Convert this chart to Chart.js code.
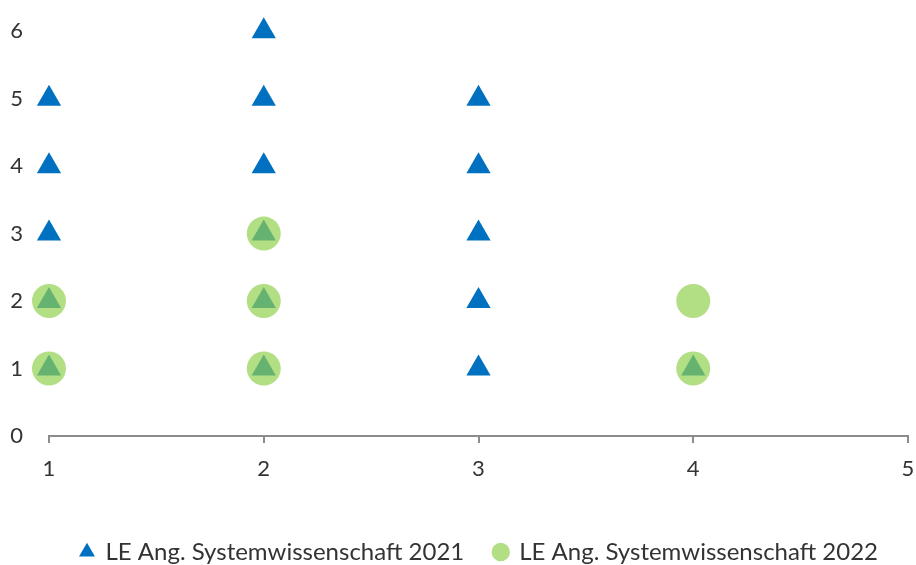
<!DOCTYPE html>
<html>
<head>
<meta charset="utf-8">
<script src="https://cdn.jsdelivr.net/npm/chart.js@4"></script>
<style>
  body { margin: 0; background: #fff; }
  #wrap { width: 916px; height: 565px; }
</style>
</head>
<body>
<div id="wrap"><canvas id="chart" width="916" height="565"></canvas></div>
<script>
// series 2021 (blue triangles)
const x2021 = [1, 1, 1, 1, 1, 2, 2, 2, 2, 2, 2, 3, 3, 3, 3, 3, 4];
const y2021 = [1, 2, 3, 4, 5, 1, 2, 3, 4, 5, 6, 1, 2, 3, 4, 5, 1];
// series 2022 (green circles)
const x2022 = [1, 1, 2, 2, 2, 4, 4];
const y2022 = [1, 2, 1, 2, 3, 1, 2];
const seriesNames = ['LE Ang. Systemwissenschaft 2021', 'LE Ang. Systemwissenschaft 2022'];
const xTicks = [1, 2, 3, 4, 5];
const yTicks = [0, 1, 2, 3, 4, 5, 6];

const toPoints = (xs, ys) => xs.map((x, i) => ({ x: x, y: ys[i] }));
const fontFamily = 'Lato, "Open Sans", sans-serif';

const ctx = document.getElementById('chart').getContext('2d');
new Chart(ctx, {
    type: 'scatter',
    data: {
        datasets: [{
            label: seriesNames[0],
            data: toPoints(x2021, y2021),
            pointStyle: 'triangle',
            pointRadius: 14,
            backgroundColor: '#0070C0',
            borderColor: '#0070C0',
            borderWidth: 0,
            order: 2
        }, {
            label: seriesNames[1],
            data: toPoints(x2022, y2022),
            pointStyle: 'circle',
            pointRadius: 17,
            backgroundColor: 'rgba(146, 208, 80, 0.7)',
            borderColor: 'rgba(146, 208, 80, 0.7)',
            borderWidth: 0,
            order: 1
        }]
    },
    options: {
        responsive: false,
        animation: false,
        clip: false,
        layout: { autoPadding: false, padding: { top: 28, right: 8, left: 0, bottom: -9 } },
        plugins: {
            tooltip: { enabled: false },
            legend: {
                position: 'bottom',
                align: 'end',
                labels: {
                    usePointStyle: true,
                    boxWidth: 13,
                    boxHeight: 13,
                    padding: 30,
                    color: '#333',
                    font: { family: fontFamily, size: 24 },
                    sort: (a, b) => a.datasetIndex - b.datasetIndex
                }
            }
        },
        scales: {
            x: {
                type: 'linear',
                min: 1,
                max: 5,
                afterBuildTicks: s => { s.ticks = xTicks.map(v => ({ value: v })); },
                afterFit: s => {
                    s.height = 74;
                    s.paddingRight = 0; // label overhang handled by layout padding
                },
                grid: {
                    display: true,
                    drawOnChartArea: false,
                    drawTicks: true,
                    tickLength: 7,
                    color: '#8c8c8c',
                    lineWidth: 2
                },
                border: { display: true, color: '#8c8c8c', width: 2 },
                ticks: {
                    color: '#333',
                    padding: 13,
                    font: { family: fontFamily, size: 22 }
                }
            },
            y: {
                type: 'linear',
                min: 0,
                max: 6,
                afterBuildTicks: s => { s.ticks = yTicks.map(v => ({ value: v })); },
                afterFit: s => { s.width = 49; },
                grid: { display: false },
                border: { display: false },
                ticks: {
                    color: '#333',
                    padding: 18,
                    font: { family: fontFamily, size: 22 }
                }
            }
        }
    }
});
</script>
</body>
</html>
